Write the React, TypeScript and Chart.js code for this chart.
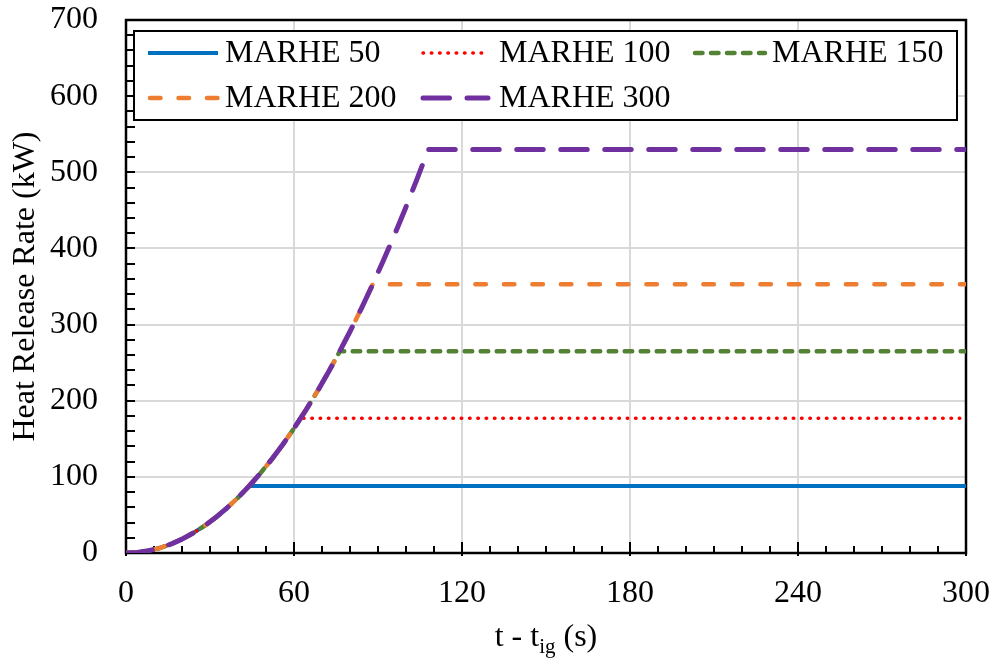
import React, { useEffect, useRef } from "react";
import { Chart, registerables } from "chart.js";

Chart.register(...registerables);

// ---- data ----
const growthTime = [0, 4, 8, 12, 16, 20, 24, 28, 32, 36, 40, 44, 48, 52, 56, 60, 64, 68, 72, 76, 80, 84, 88, 92, 96, 100, 104, 108];
const growthHRR = [0, 0.73, 2.91, 6.54, 11.6, 18.2, 26.2, 35.6, 46.5, 58.9, 72.7, 88.0, 104.7, 122.9, 142.5, 163.6, 186.2, 210.2, 235.6, 262.5, 290.9, 320.7, 352.0, 384.7, 418.9, 454.5, 491.6, 530];
const seriesLabels = ["MARHE 50", "MARHE 100", "MARHE 150", "MARHE 200", "MARHE 300"];
const plateauStart = [44, 62.4, 76.4, 88.1, 108];
const plateauHRR = [88, 177, 265, 353, 530];
const endTime = 300;
const seriesColors = ["#0070c0", "#ff0000", "#548235", "#ed7d31", "#7030a0"];
const seriesWidths = [4, 3.5, 4.5, 4.5, 5];
const seriesDashes: number[][] = [[], [0.5, 7.8], [7.5, 8.5], [10.5, 18], [26.5, 17.5]];
const xMin = 0, xMax = 300, xStep = 60, xMinorStep = 10;
const yMin = 0, yMax = 700, yStep = 100, yMinorStep = 20;
const xTitleMain1 = "t - t";
const xTitleSub = "ig";
const xTitleMain2 = " (s)";
const yTitle = "Heat Release Rate (kW)";

const FONT = '"Liberation Serif", "Times New Roman", serif';

const buildSeries = (i: number) => {
  const pts = growthTime
    .map((t, k) => ({ x: t, y: growthHRR[k] }))
    .filter((p) => p.x < plateauStart[i]);
  pts.push({ x: plateauStart[i], y: plateauHRR[i] });
  pts.push({ x: endTime, y: plateauHRR[i] });
  return pts;
};

const decorPlugin = {
  id: "decor",
  beforeDatasetsDraw(chart: any) {
    const { ctx, chartArea: a, scales } = chart;
    const xs = scales.x, ys = scales.y;
    ctx.save();
    ctx.strokeStyle = "#000";
    ctx.lineWidth = 2;
    ctx.beginPath();
    for (let v = xMin; v <= xMax; v += xMinorStep) {
      const px = Math.round(xs.getPixelForValue(v));
      const major = v % xStep === 0;
      ctx.moveTo(px, a.bottom + (major ? 3 : 0));
      ctx.lineTo(px, a.bottom - (major ? 11 : 7));
    }
    for (let v = yMin; v <= yMax; v += yMinorStep) {
      const py = Math.round(ys.getPixelForValue(v));
      ctx.moveTo(a.left - 1, py);
      ctx.lineTo(a.left + 9, py);
    }
    ctx.stroke();
    ctx.lineWidth = 2.5;
    ctx.strokeRect(a.left, a.top, a.right - a.left, a.bottom - a.top);
    ctx.restore();
  },
  afterDatasetsDraw(chart: any) {
    const { ctx, chartArea: a } = chart;
    ctx.save();
    const bx = 134, by = 31, bw = 957 - 134, bh = 120 - 31;
    ctx.fillStyle = "#fff";
    ctx.fillRect(bx, by, bw, bh);
    ctx.strokeStyle = "#000";
    ctx.lineWidth = 2;
    ctx.strokeRect(bx, by, bw, bh);
    const items = [
      { lx: 148, rx: 218, tx: 225, y: 53 },
      { lx: 421, rx: 488, tx: 499, y: 53 },
      { lx: 693, rx: 765, tx: 772, y: 53 },
      { lx: 148, rx: 218, tx: 225, y: 98 },
      { lx: 421, rx: 488, tx: 499, y: 98 },
    ];
    chart.data.datasets.forEach((ds: any, i: number) => {
      const it = items[i];
      ctx.save();
      ctx.strokeStyle = ds.borderColor;
      ctx.lineWidth = ds.borderWidth;
      ctx.lineCap = ds.borderDash.length ? "round" : "butt";
      ctx.setLineDash(ds.borderDash);
      ctx.beginPath();
      ctx.moveTo(it.lx + (ds.borderDash.length ? 2 : 0), it.y);
      ctx.lineTo(it.rx, it.y);
      ctx.stroke();
      ctx.restore();
      ctx.fillStyle = "#000";
      ctx.font = `32px ${FONT}`;
      ctx.textAlign = "left";
      ctx.textBaseline = "middle";
      ctx.fillText(ds.label, it.tx, it.y + 1);
    });
    ctx.save();
    ctx.translate(26, (a.top + a.bottom) / 2);
    ctx.rotate(-Math.PI / 2);
    ctx.fillStyle = "#000";
    ctx.font = `32px ${FONT}`;
    ctx.textAlign = "center";
    ctx.textBaseline = "middle";
    ctx.fillText(yTitle, 0, 0);
    ctx.restore();
    ctx.fillStyle = "#000";
    ctx.textBaseline = "alphabetic";
    ctx.textAlign = "left";
    const mainFont = `32px ${FONT}`;
    const subFont = `21px ${FONT}`;
    ctx.font = mainFont;
    const w1 = ctx.measureText(xTitleMain1).width;
    const w3 = ctx.measureText(xTitleMain2).width;
    ctx.font = subFont;
    const w2 = ctx.measureText(xTitleSub).width;
    const total = w1 + w2 + w3;
    let x0 = (a.left + a.right) / 2 - total / 2;
    const base = 646;
    ctx.font = mainFont;
    ctx.fillText(xTitleMain1, x0, base);
    x0 += w1;
    ctx.font = subFont;
    ctx.fillText(xTitleSub, x0, base + 7);
    x0 += w2;
    ctx.font = mainFont;
    ctx.fillText(xTitleMain2, x0, base);
    ctx.restore();
  },
};

export default function App() {
  const ref = useRef<HTMLCanvasElement | null>(null);
  useEffect(() => {
    if (!ref.current) return;
    const datasets = seriesLabels.map((label, i) => ({
      label,
      data: buildSeries(i),
      borderColor: seriesColors[i],
      backgroundColor: seriesColors[i],
      borderWidth: seriesWidths[i],
      borderDash: seriesDashes[i],
      borderCapStyle: seriesDashes[i].length ? "round" : "butt",
      borderJoinStyle: "round",
      pointRadius: 0,
      tension: 0,
      fill: false,
      order: seriesLabels.length - i,
    }));
    const chart = new Chart(ref.current, {
      type: "line",
      data: { datasets } as any,
      options: {
        responsive: false,
        animation: false,
        devicePixelRatio: 1,
        layout: { padding: { left: 0, top: 20, right: 27, bottom: 0 } },
        plugins: { legend: { display: false }, tooltip: { enabled: false } },
        scales: {
          x: {
            type: "linear",
            min: xMin,
            max: xMax,
            ticks: {
              stepSize: xStep,
              color: "#000",
              font: { family: FONT, size: 32 },
              padding: 21,
              maxRotation: 0,
            },
            grid: { color: "#d9d9d9", lineWidth: 2, drawTicks: false },
            border: { display: false },
            afterFit: (s: any) => {
              s.height = 105;
              s.paddingLeft = 0;
              s.paddingRight = 0;
            },
          },
          y: {
            type: "linear",
            min: yMin,
            max: yMax,
            ticks: {
              stepSize: yStep,
              color: "#000",
              font: { family: FONT, size: 32 },
              padding: 28,
            },
            grid: { color: "#d9d9d9", lineWidth: 2, drawTicks: false },
            border: { display: false },
            afterFit: (s: any) => {
              s.width = 126;
              s.paddingTop = 0;
              s.paddingBottom = 0;
            },
          },
        },
      } as any,
      plugins: [decorPlugin],
    });
    return () => chart.destroy();
  }, []);
  return (
    <div style={{ position: "fixed", left: 0, top: 0, width: 993, height: 658, background: "#fff" }}>
      <canvas ref={ref} width={993} height={658} style={{ display: "block" }} />
    </div>
  );
}
